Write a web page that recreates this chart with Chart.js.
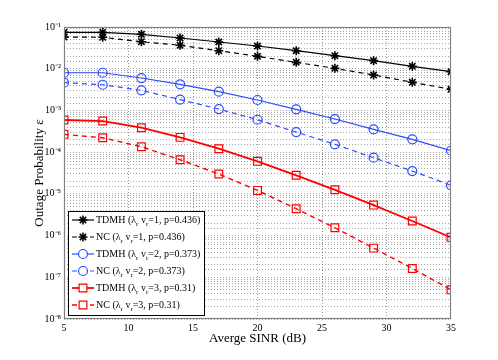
<!DOCTYPE html>
<html>
<head>
<meta charset="utf-8">
<script src="https://cdn.jsdelivr.net/npm/chart.js@4/dist/chart.umd.min.js"></script>
<style>
body { margin: 0; background: #fff; }
</style>
</head>
<body>
<canvas id="outageChart" width="498" height="360"></canvas>
<script>
var snr = [5, 8, 11, 14, 17, 20, 23, 26, 29, 32, 35];

var tdmh1 = [0.0746, 0.0745, 0.0668, 0.0545, 0.0437, 0.0350, 0.0270, 0.0205, 0.0156, 0.0114, 0.0085];
var nc1   = [0.0575, 0.0566, 0.0444, 0.0364, 0.0270, 0.0198, 0.0142, 0.0102, 0.00706, 0.00472, 0.00321];
var tdmh2 = [0.0080, 0.0080, 0.00598, 0.00423, 0.00281, 0.00178, 0.00106, 0.000622, 0.000352, 0.000203, 0.000108];
var nc2   = [0.00462, 0.00413, 0.00303, 0.00182, 0.00108, 0.000598, 0.000303, 0.000154, 0.0000735, 0.0000352, 0.0000160];
var tdmh3 = [0.000589, 0.000557, 0.000385, 0.000226, 0.000121, 0.0000602, 0.0000278, 0.0000125, 0.00000538, 0.00000223, 0.000000906];
var nc3   = [0.000267, 0.000221, 0.000135, 0.0000658, 0.0000299, 0.0000121, 0.0000044, 0.00000154, 0.0000005, 0.000000163, 0.00000005];

var schemes = ['TDMH', 'NC', 'TDMH', 'NC', 'TDMH', 'NC'];
var lamNu = [1, 1, 2, 2, 3, 3];
var pVals = ['0.436', '0.436', '0.373', '0.373', '0.31', '0.31'];
var xTicks = [5, 10, 15, 20, 25, 30, 35];

var black = '#000000';
var blue = 'rgb(45,75,255)';
var red = 'rgb(255,0,0)';

function mkLabel(i) {
	return schemes[i] + ' (\u03bbr vr=' + lamNu[i] + ', p=' + pVals[i] + ')';
}

function series(i, vals, color, dashed, style, radius, width) {
	return {
		label: mkLabel(i),
		data: vals.map(function (v, k) { return {x: snr[k], y: v}; }),
		borderColor: color,
		backgroundColor: 'rgba(0,0,0,0)',
		borderWidth: width,
		borderDash: dashed ? [5, 4] : [],
		pointStyle: style,
		pointRadius: radius,
		pointBorderWidth: style === 'star' ? 1.6 : 1.2,
		pointBorderColor: color,
		pointBackgroundColor: 'rgba(0,0,0,0)',
		tension: 0
	};
}

var supers = {'-': '\u207b', '0': '\u2070', '1': '\u00b9', '2': '\u00b2', '3': '\u00b3', '4': '\u2074',
	'5': '\u2075', '6': '\u2076', '7': '\u2077', '8': '\u2078', '9': '\u2079'};

function powLabel(v) {
	var e = Math.round(Math.log10(v));
	if (Math.abs(Math.log10(v) - e) > 1e-6) return '';
	var s = String(e).split('').map(function (c) { return supers[c]; }).join('');
	return '10' + s;
}

// box around the axes and the legend in the lower left corner
var matlabBits = {
	id: 'matlabBits',
	afterDraw: function (chart) {
		var ctx = chart.ctx;
		var a = chart.chartArea;
		ctx.save();
		ctx.strokeStyle = '#808080';
		ctx.lineWidth = 1.2;
		ctx.setLineDash([]);
		ctx.strokeRect(a.left + 0.5, a.top + 0.5, a.right - a.left - 1, a.bottom - a.top - 1);

		var bx = a.left + 4, by = a.bottom - 108, bw = 136, bh = 104;
		ctx.fillStyle = '#fff';
		ctx.fillRect(bx, by, bw, bh);
		ctx.strokeStyle = '#000';
		ctx.lineWidth = 1;
		ctx.strokeRect(bx + 0.5, by + 0.5, bw, bh);

		chart.data.datasets.forEach(function (ds, i) {
			var y = by + 9 + i * 17;
			ctx.save();
			ctx.strokeStyle = ds.borderColor;
			ctx.lineWidth = ds.borderWidth;
			ctx.setLineDash(ds.borderDash);
			ctx.beginPath();
			ctx.moveTo(bx + 4, y);
			ctx.lineTo(bx + 26, y);
			ctx.stroke();
			ctx.setLineDash([]);
			ctx.fillStyle = '#fff';
			ctx.lineWidth = ds.pointBorderWidth;
			Chart.helpers.drawPoint(ctx, {pointStyle: ds.pointStyle, radius: ds.pointRadius, rotation: 0, borderWidth: ds.pointBorderWidth}, bx + 15, y);
			ctx.restore();

			var parts = [[schemes[i] + ' (\u03bb', 0], ['r', 1], [' v', 0], ['r', 1], ['=' + lamNu[i] + ', p=' + pVals[i] + ')', 0]];
			var x = bx + 28;
			ctx.fillStyle = '#000';
			ctx.textBaseline = 'middle';
			ctx.textAlign = 'left';
			parts.forEach(function (p) {
				ctx.font = p[1] ? '7px "Liberation Serif"' : '10px "Liberation Serif"';
				ctx.fillText(p[0], x, p[1] ? y + 4 : y);
				x += ctx.measureText(p[0]).width;
			});
		});
		ctx.restore();
	}
};

var ctx = document.getElementById('outageChart').getContext('2d');

var outageChart = new Chart(ctx, {
	type: 'line',
	data: {
		datasets: [
			series(0, tdmh1, black, false, 'star', 4.5, 1.2),
			series(1, nc1, black, true, 'star', 4.5, 1.2),
			series(2, tdmh2, blue, false, 'circle', 4.5, 1.2),
			series(3, nc2, blue, true, 'circle', 4.5, 1.2),
			series(4, tdmh3, red, false, 'rect', 5.5, 1.8),
			series(5, nc3, red, true, 'rect', 5.5, 1.4)
		]
	},
	options: {
		responsive: false,
		animation: false,
		layout: {padding: {left: 28, right: 47, top: 27, bottom: 10}},
		plugins: {
			legend: {display: false},
			tooltip: {enabled: false}
		},
		scales: {
			x: {
				type: 'linear',
				min: 5,
				max: 35,
				afterFit: function (s) { s.height = 31; },
				afterBuildTicks: function (s) {
					s.ticks = xTicks.map(function (v) { return {value: v}; });
				},
				border: {display: false, dash: [1, 2]},
				grid: {
					color: function (c) {
						return (c.tick && (c.tick.value === 5 || c.tick.value === 35)) ? 'rgba(0,0,0,0)' : 'rgba(0,0,0,0.4)';
					},
					lineWidth: 1,
					drawTicks: false
				},
				ticks: {
					color: '#000',
					padding: 3,
					autoSkip: false,
					maxRotation: 0,
					font: {family: 'Liberation Serif', size: 10}
				},
				title: {
					display: true,
					text: 'Averge SINR (dB)',
					color: '#000',
					font: {family: 'Liberation Serif', size: 13},
					padding: {top: 0, bottom: 4}
				}
			},
			y: {
				type: 'logarithmic',
				min: 1e-8,
				max: 1e-1,
				afterFit: function (s) { s.width = 36; },
				border: {display: false, dash: [1, 2]},
				grid: {
					color: 'rgba(0,0,0,0.35)',
					lineWidth: 1,
					drawTicks: false
				},
				ticks: {
					color: '#000',
					padding: 3,
					autoSkip: false,
					font: {family: 'Liberation Serif', size: 10},
					callback: function (v) { return powLabel(v); }
				},
				title: {
					display: true,
					text: 'Outage Probability \u03b5',
					color: '#000',
					font: {family: 'Liberation Serif', size: 13},
					padding: {top: 4, bottom: 2}
				}
			}
		}
	},
	plugins: [matlabBits]
});
</script>
</body>
</html>
